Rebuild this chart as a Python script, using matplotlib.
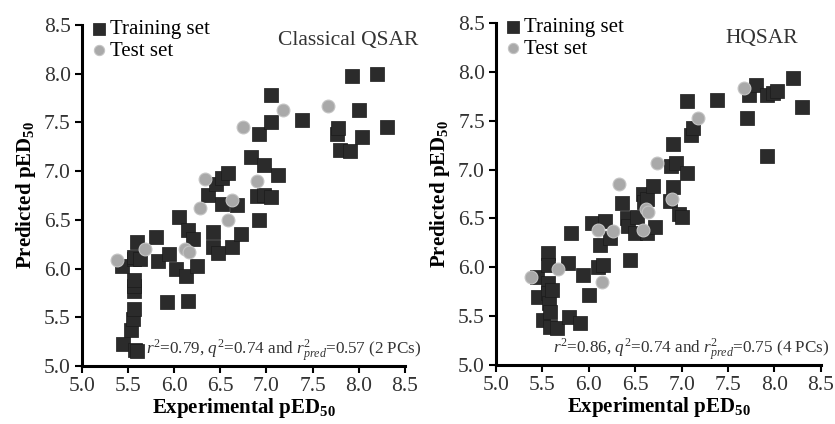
import matplotlib
matplotlib.use("Agg")
import matplotlib.pyplot as plt

plt.rcParams['font.family'] = 'Liberation Serif'
plt.rcParams['mathtext.fontset'] = 'custom'
plt.rcParams['mathtext.rm'] = 'Liberation Serif'
plt.rcParams['mathtext.it'] = 'Liberation Serif:italic'
plt.rcParams['mathtext.bf'] = 'Liberation Serif:bold'

# Classical QSAR - training set (experimental, predicted)
cq_train_x = [5.43, 5.45, 5.53, 5.55, 5.56, 5.57, 5.57, 5.57, 5.57, 5.58, 5.6,
              5.56, 5.63, 5.6, 5.8, 5.82, 5.92, 5.94, 6.02, 6.05, 6.13, 6.15,
              6.15, 6.2, 6.25, 6.37, 6.42, 6.42, 6.45, 6.47, 6.52, 6.52, 6.58,
              6.63, 6.68, 6.72, 6.83, 6.9, 6.92, 6.92, 6.97, 6.97, 7.05, 7.05,
              7.05, 7.12, 7.38, 7.76, 7.78, 7.8, 7.9, 7.93, 8.0, 8.03, 8.2, 8.3]
cq_train_y = [6.03, 5.23, 5.37, 5.48, 5.58, 5.77, 5.82, 5.88, 6.1, 5.16, 5.15,
              6.12, 6.1, 6.27, 6.32, 6.08, 5.66, 6.15, 5.99, 6.53, 5.92, 6.4,
              5.67, 6.3, 6.03, 6.75, 6.38, 6.22, 6.87, 6.16, 6.93, 6.66, 6.98,
              6.22, 6.65, 6.35, 7.14, 6.74, 7.38, 6.5, 7.06, 6.75, 7.5, 6.73,
              7.78, 6.96, 7.52, 7.38, 7.44, 7.22, 7.21, 7.98, 7.63, 7.35, 8.0,
              7.45]

# Classical QSAR - test set
cq_test_x = [5.38, 5.68, 6.12, 6.16, 6.28, 6.33, 6.58, 6.63, 6.75, 6.9, 7.18, 7.67]
cq_test_y = [6.09, 6.2, 6.2, 6.17, 6.62, 6.92, 6.5, 6.7, 7.45, 6.9, 7.63, 7.67]

# HQSAR - training set
hq_train_x = [5.44, 5.45, 5.51, 5.56, 5.56, 5.56, 5.56, 5.57, 5.58, 5.58, 5.6,
              5.66, 5.78, 5.79, 5.81, 5.9, 5.94, 6.0, 6.03, 6.1, 6.12, 6.15,
              6.18, 6.23, 6.36, 6.41, 6.42, 6.44, 6.5, 6.52, 6.58, 6.6, 6.63,
              6.63, 6.69, 6.71, 6.88, 6.89, 6.91, 6.91, 6.94, 6.97, 7.0, 7.06,
              7.06, 7.1, 7.12, 7.38, 7.71, 7.73, 7.8, 7.92, 7.92, 7.98, 8.03,
              8.2, 8.3]
hq_train_y = [5.9, 5.7, 5.46, 6.15, 6.02, 5.84, 5.74, 5.63, 5.54, 5.39, 5.77,
              5.38, 6.04, 5.49, 6.35, 5.43, 5.92, 5.72, 6.45, 6.0, 6.23, 6.02,
              6.47, 6.3, 6.66, 6.5, 6.42, 6.07, 6.35, 6.51, 6.75, 6.67, 6.7,
              6.35, 6.83, 6.41, 6.68, 7.04, 7.26, 6.82, 7.07, 6.55, 6.51, 6.96,
              7.7, 7.35, 7.43, 7.71, 7.53, 7.76, 7.86, 7.76, 7.14, 7.78, 7.8,
              7.94, 7.64]

# HQSAR - test set
hq_test_x = [5.38, 5.67, 6.1, 6.14, 6.26, 6.33, 6.58, 6.62, 6.64, 6.74, 6.9, 7.18, 7.67]
hq_test_y = [5.9, 5.98, 6.38, 5.85, 6.37, 6.85, 6.38, 6.6, 6.57, 7.07, 6.7, 7.53, 7.83]

ticks = [5.0, 5.5, 6.0, 6.5, 7.0, 7.5, 8.0, 8.5]

fig = plt.figure(figsize=(8.35, 4.24), dpi=100)
ax1 = fig.add_axes([0.098, 0.137, 0.387, 0.804])
ax2 = fig.add_axes([0.594, 0.139, 0.389, 0.807])

panels = [
    (ax1, cq_train_x, cq_train_y, cq_test_x, cq_test_y, 'Classical QSAR', 1.04,
     r'$r^2$=0.79, $q^2$=0.74 and $r^2_{pred}$=0.57 (2 PCs)', 0.2),
    (ax2, hq_train_x, hq_train_y, hq_test_x, hq_test_y, 'HQSAR', 0.93,
     r'$r^2$=0.86, $q^2$=0.74 and $r^2_{pred}$=0.75 (4 PCs)', 0.175),
]

for ax, tx, ty, sx, sy, title, title_x, stats, sx_pos in panels:
    ax.scatter(tx, ty, marker='s', s=115, color='#2b2b2b', edgecolors='#1a1a1a',
               linewidths=0.5, label='Training set', zorder=2)
    ax.scatter(sx, sy, marker='o', s=85, color='#a9a9a9', edgecolors='#c4c4c4',
               linewidths=0.8, label='Test set', zorder=3)
    ax.set_xlim(5.0, 8.5)
    ax.set_ylim(5.0, 8.5)
    ax.set_xticks(ticks)
    ax.set_yticks(ticks)
    ax.set_xticklabels(['%.1f' % t for t in ticks])
    ax.set_yticklabels(['%.1f' % t for t in ticks])
    ax.tick_params(direction='out', length=5, width=1.5, labelsize=15.5,
                   colors='black', labelcolor='#333333', pad=3)
    for side in ['top', 'right']:
        ax.spines[side].set_visible(False)
    for side in ['left', 'bottom']:
        ax.spines[side].set_linewidth(2.2)
    ax.set_xlabel(r'Experimental pED$_{\mathbf{50}}$', fontsize=15,
                  fontweight='bold', labelpad=0)
    ax.set_ylabel(r'Predicted pED$_{\mathbf{50}}$', fontsize=15,
                  fontweight='bold', labelpad=4)
    ax.text(title_x, 0.955, title, transform=ax.transAxes, ha='right',
            va='center', fontsize=15.5, color='#333333', clip_on=False)
    ax.text(sx_pos, 0.045, stats, transform=ax.transAxes, ha='left',
            va='center', fontsize=12.3, color='#333333')
    ax.legend(loc='upper left', frameon=False, fontsize=15, handletextpad=0.05,
              borderaxespad=0.0, borderpad=0.15, labelspacing=0.1,
              markerscale=0.8, handlelength=1.0, bbox_to_anchor=(0.01, 1.025))

fig.savefig('out.png', dpi=100)
